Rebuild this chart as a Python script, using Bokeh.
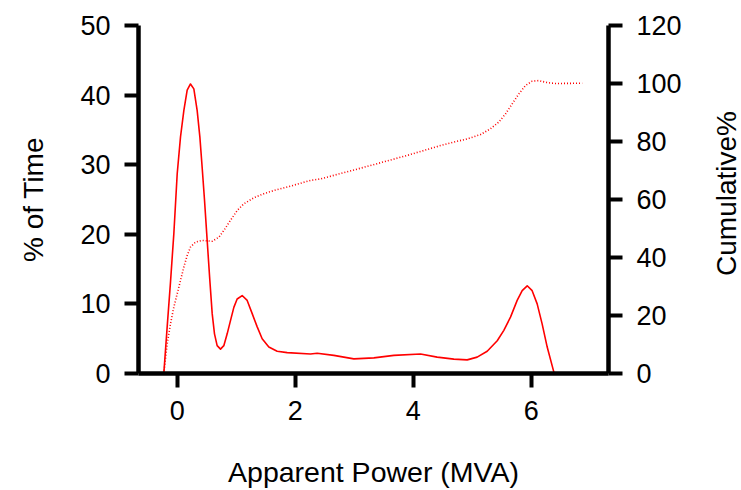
import math
from bokeh.plotting import figure
from bokeh.models import Range1d, LinearAxis, FixedTicker, Label
from bokeh.layouts import row
from bokeh.embed import file_html
from bokeh.resources import INLINE

# % of Time curve (left axis)
pct_x = [-0.227, -0.170, -0.114, -0.057, 0.0, 0.056, 0.113, 0.169, 0.225, 0.282,
         0.338, 0.384, 0.423, 0.463, 0.508, 0.553, 0.593, 0.632, 0.677, 0.734,
         0.790, 0.847, 0.903, 0.960, 1.016, 1.101, 1.186, 1.271, 1.356, 1.440,
         1.553, 1.694, 1.864, 2.259, 2.372, 2.655, 2.994, 3.333, 3.672, 4.124,
         4.406, 4.689, 4.915, 5.084, 5.254, 5.424, 5.536, 5.649, 5.762, 5.847,
         5.932, 6.016, 6.101, 6.186, 6.271, 6.384]
pct_time = [0.0, 6.7, 13.1, 20.1, 28.7, 34.0, 37.8, 40.7, 41.6, 40.9,
            37.8, 34.0, 29.6, 24.9, 19.1, 13.4, 8.6, 5.7, 4.0, 3.5,
            4.0, 5.7, 7.6, 9.5, 10.7, 11.2, 10.5, 8.6, 6.7, 5.0,
            3.8, 3.2, 3.0, 2.8, 2.9, 2.6, 2.1, 2.25, 2.6, 2.8,
            2.35, 2.06, 1.96, 2.35, 3.2, 4.7, 6.2, 8.1, 10.5, 11.9,
            12.6, 11.9, 10.0, 7.1, 3.8, 0.2]

# Cumulative % curve (right axis)
cum_x = [-0.227, -0.170, -0.114, -0.057, 0.0, 0.056, 0.113, 0.169, 0.225, 0.310,
         0.423, 0.593, 0.706, 0.790, 0.903, 1.016, 1.129, 1.299, 1.469, 1.638,
         1.920, 2.259, 2.429, 3.163, 3.898, 4.463, 4.689, 4.915, 5.141, 5.310,
         5.451, 5.564, 5.678, 5.790, 5.903, 6.016, 6.129, 6.271, 6.412, 6.864]
cum_pct = [0.0, 10.2, 17.1, 22.9, 27.5, 32.1, 36.7, 40.7, 43.6, 45.3,
           45.9, 45.6, 47.0, 49.3, 52.8, 56.2, 58.5, 60.6, 62.0, 63.1,
           64.6, 66.6, 67.1, 71.1, 75.2, 78.6, 79.8, 80.9, 82.4, 84.4,
           86.7, 89.5, 93.0, 96.4, 99.3, 100.8, 101.0, 100.3, 100.0, 100.1]

x_ticks = [0, 2, 4, 6]
left_ticks = [0, 10, 20, 30, 40, 50]
right_ticks = [0, 20, 40, 60, 80, 100, 120]

x_title = "Apparent Power (MVA)"
left_title = "% of Time"
right_title = "Cumulative%"

FONT = "Liberation Sans"
FS = "27px"

W, H = 712, 490      # main figure
W2 = 741 - W         # narrow strip holding the right-hand title

p = figure(width=W, height=H, output_backend="svg", toolbar_location=None,
           x_range=Range1d(-0.656, 7.31), y_range=Range1d(0, 50),
           min_border_left=138, min_border_right=W - 608, min_border_top=25,
           min_border_bottom=H - 373)
p.extra_y_ranges = {"cum": Range1d(0, 120)}
p.outline_line_color = None
p.grid.visible = False
p.background_fill_color = "white"
p.border_fill_color = "white"

p.line(pct_x, pct_time, line_color="#ff0000", line_width=1.6, line_join="round")
p.line(cum_x, cum_pct, line_color="#ff0000", line_width=1.6, line_dash="1 2",
       y_range_name="cum")

right = LinearAxis(y_range_name="cum")
p.add_layout(right, "right")

def style(ax, ticks):
    ax.ticker = FixedTicker(ticks=ticks)
    ax.axis_line_width = 4.5
    ax.axis_line_color = "black"
    ax.major_tick_line_width = 4
    ax.major_tick_line_color = "black"
    ax.major_tick_out = 14
    ax.major_tick_in = 0
    ax.minor_tick_line_color = None
    ax.major_label_text_font = FONT
    ax.major_label_text_font_size = FS
    ax.major_label_text_color = "black"
    ax.major_label_standoff = 14
    ax.axis_label_text_font = FONT
    ax.axis_label_text_font_style = "normal"
    ax.axis_label_text_color = "black"

style(p.xaxis[0], x_ticks)
style(p.yaxis[0], left_ticks)
style(right, right_ticks)

p.yaxis[0].axis_label = left_title
p.yaxis[0].axis_label_text_font_size = "28px"
p.yaxis[0].axis_label_standoff = 28

p.xaxis[0].axis_label = x_title
p.xaxis[0].axis_label_text_font_size = "28.5px"
p.xaxis[0].major_label_standoff = 13
p.xaxis[0].axis_label_standoff = 33

# narrow strip on the right for the rotated "Cumulative%" title (reads bottom-to-top)
p2 = figure(width=W2, height=H, output_backend="svg", toolbar_location=None,
            x_axis_location=None, y_axis_location=None,
            x_range=Range1d(W, W + W2), y_range=Range1d(H, 0),
            min_border=0, min_border_left=0, min_border_right=0,
            min_border_top=0, min_border_bottom=0)
p2.grid.visible = False
p2.outline_line_color = None
p2.background_fill_color = "white"
p2.border_fill_color = "white"
p2.add_layout(Label(x=726, y=236.5, text=right_title, text_font=FONT,
                    text_font_size="28px", text_color="black",
                    angle=math.pi / 2, text_align="center",
                    text_baseline="alphabetic"))

layout = row(p, p2, spacing=0)
open("out.html", "w").write(file_html(layout, INLINE))
